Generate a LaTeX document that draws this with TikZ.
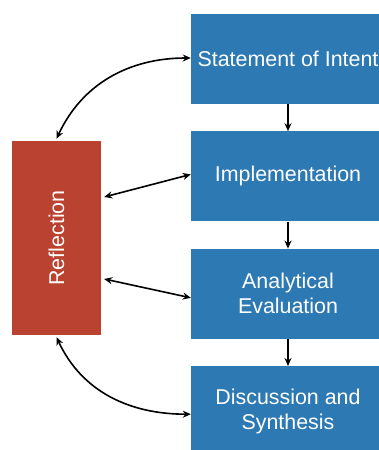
\documentclass[tikz,border=0pt]{standalone}
\usepackage{fontspec}
\setmainfont{Liberation Sans}
\usetikzlibrary{positioning,arrows.meta}
\definecolor{stageblue}{RGB}{44,121,179}
\definecolor{reflred}{RGB}{186,66,48}
\begin{document}
\begin{tikzpicture}[x=1pt, y=1pt,
  stage/.style={fill=stageblue, text=white, minimum width=194pt, minimum height=90pt,
    align=center, font=\fontsize{21.4}{25}\selectfont, inner sep=0pt},
  refl/.style={fill=reflred, text=white, minimum width=89pt, minimum height=194pt,
    font=\fontsize{21.4}{25}\selectfont, inner sep=0pt},
  link/.style={{Stealth[length=8pt,width=7pt]}-{Stealth[length=8pt,width=7pt]}, line width=1.6pt},
  next/.style={-{Stealth[length=8pt,width=7pt]}, line width=1.6pt}]
\useasboundingbox (0,0) rectangle (379,450);
\node[stage] (intent) at (288,391) {Statement of Intent};
\node[stage, below=27pt of intent] (impl) {Implementation};
\node[stage, below=27pt of impl] (eval) {Analytical\\Evaluation};
\node[stage, below=27pt of eval] (synth) {Discussion and\\Synthesis};
\node[refl] (reflect) at (56.5,212) {\rotatebox{90}{Reflection}};
\draw[next] (intent) -- (impl);
\draw[next] (impl) -- (eval);
\draw[next] (eval) -- (synth);
\draw[link] ([yshift=1pt]intent.west) to[out=180, in=65] ([yshift=2pt]reflect.north);
\draw[link] ([xshift=3pt, yshift=41pt]reflect.east) -- ([yshift=2pt]impl.west);
\draw[link] ([xshift=3pt, yshift=-41pt]reflect.east) -- ([yshift=-4pt]eval.west);
\draw[link] ([yshift=-2pt]reflect.south) to[out=-65, in=180] ([yshift=-3pt]synth.west);
\end{tikzpicture}
\end{document}
